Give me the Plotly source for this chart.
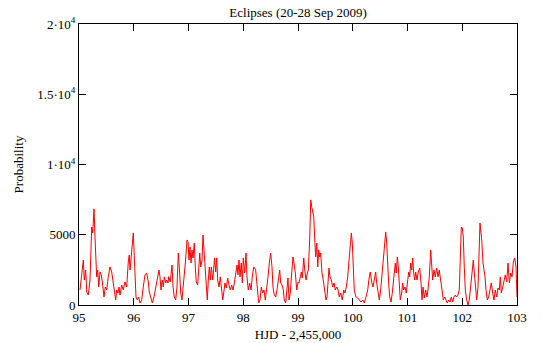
import plotly.graph_objects as go

# Eclipse-search probability versus heliocentric Julian date
hjd = [
    95.018, 95.049, 95.079, 95.097, 95.122, 95.141, 95.170, 95.201, 95.232, 95.250,
    95.274, 95.292, 95.311, 95.323, 95.342, 95.360, 95.384, 95.407, 95.426, 95.457,
    95.480, 95.506, 95.535, 95.566, 95.597, 95.626, 95.670, 95.689, 95.712, 95.731,
    95.749, 95.780, 95.809, 95.840, 95.871, 95.900, 95.918, 95.932, 95.950, 95.974,
    95.992, 96.005, 96.023, 96.041, 96.065, 96.090, 96.114, 96.145, 96.174, 96.205,
    96.236, 96.266, 96.284, 96.315, 96.339, 96.370, 96.401, 96.430, 96.461, 96.479,
    96.498, 96.521, 96.540, 96.558, 96.584, 96.602, 96.626,
    96.638, 96.668, 96.699, 96.717, 96.741, 96.766, 96.790, 96.814, 96.832, 96.858,
    96.881, 96.912, 96.942, 96.973, 96.991, 97.009, 97.027, 97.046, 97.064, 97.082,
    97.106, 97.124, 97.142, 97.168, 97.186, 97.205, 97.223, 97.247, 97.265, 97.283,
    97.301, 97.325, 97.343, 97.362, 97.380, 97.399, 97.417, 97.442, 97.460, 97.477,
    97.497, 97.515, 97.533, 97.557, 97.581, 97.606, 97.625, 97.643, 97.667, 97.690,
    97.716, 97.740, 97.763, 97.789, 97.813, 97.837, 97.862, 97.886, 97.904, 97.922,
    97.941, 97.964, 97.983, 98.001, 98.026, 98.050, 98.068, 98.092, 98.118, 98.142,
    98.165, 98.191,
    98.227, 98.257, 98.282, 98.306, 98.330, 98.355, 98.379, 98.403, 98.428, 98.452,
    98.476, 98.501, 98.525, 98.543, 98.567, 98.593, 98.616, 98.640, 98.666, 98.684,
    98.708, 98.732, 98.750, 98.775, 98.799, 98.817, 98.836, 98.859, 98.885, 98.909,
    98.927, 98.951, 98.977, 99.001, 99.019, 99.037, 99.061, 99.079, 99.105, 99.123,
    99.147, 99.171, 99.189, 99.215, 99.233, 99.251, 99.270, 99.288, 99.306, 99.324,
    99.343, 99.361, 99.378, 99.397, 99.415, 99.438, 99.462, 99.488, 99.511, 99.530,
    99.548, 99.566, 99.584, 99.608, 99.634, 99.658, 99.681, 99.707, 99.731, 99.754,
    99.780,
    99.809, 99.835, 99.858, 99.882, 99.908, 99.932, 99.955, 99.974, 99.992, 100.010,
    100.028, 100.059, 100.090, 100.120, 100.151, 100.182, 100.211, 100.242, 100.273, 100.302,
    100.320, 100.346, 100.370, 100.393, 100.419, 100.437, 100.461, 100.485, 100.510, 100.529,
    100.553, 100.576, 100.602, 100.620, 100.638, 100.656, 100.675, 100.699, 100.722, 100.741,
    100.759, 100.777, 100.795, 100.814, 100.832, 100.850, 100.868, 100.894, 100.912, 100.930,
    100.954, 100.978, 101.004, 101.022, 101.040, 101.058, 101.077, 101.095, 101.113, 101.132,
    101.150, 101.174, 101.197, 101.223, 101.247, 101.265, 101.283, 101.307, 101.332, 101.356,
    101.374, 101.398, 101.424, 101.442, 101.460, 101.484, 101.507, 101.533, 101.557, 101.580,
    101.606, 101.630, 101.654, 101.679, 101.703, 101.727, 101.752, 101.776, 101.800, 101.825,
    101.849, 101.873, 101.898, 101.922, 101.946, 101.964, 101.983, 102.001, 102.019, 102.037,
    102.056, 102.081, 102.105, 102.129, 102.154, 102.178, 102.202, 102.220, 102.238, 102.264,
    102.288, 102.306, 102.324, 102.337, 102.356, 102.379, 102.397, 102.416, 102.434, 102.458,
    102.483, 102.507, 102.530, 102.556, 102.580, 102.603, 102.629, 102.653, 102.677, 102.695,
    102.713, 102.739, 102.763, 102.786, 102.812, 102.836, 102.860, 102.885, 102.909, 102.933,
    102.958, 102.982, 103.000,
]

probability = [
    1070, 2000, 3200, 1780, 2490, 925, 712, 1780, 5550, 5130,
    6840, 4840, 3200, 2000, 2490, 1280, 2350, 2140, 1640, 570,
    1280, 1070, 2000, 2710, 2350, 1570, 360, 1070, 850, 1280,
    710, 1420, 1070, 1640, 1280, 3060, 3560, 2490, 3200, 4410,
    5130, 3920, 1570, 570, 360, 570, 140, 360, 1280, 2140,
    2280, 1640, 925, 360, 140, 570, 1280, 2000, 2490, 2000,
    1070, 1780, 1280, 2000, 1570, 1780, 1570,
    2020, 1640, 2850, 1280, 570, 360, 1280, 3700, 2710, 850,
    360, 1570, 2990, 4630, 4490, 3200, 4130, 2990, 3920, 3350,
    4410, 2710, 1640, 1420, 2710, 3700, 2710, 3200, 4980, 3920,
    2710, 1070, 360, 1780, 2710, 1780, 2710, 1780, 2710, 3350,
    2350, 3350, 1780, 1280, 2000, 1070, 360, 850, 1570, 1210,
    1920, 1420, 1070, 1420, 1070, 1570, 2350, 2850, 2140, 3200,
    2000, 2990, 1570, 3350, 2280, 3700, 2000, 1070, 1570, 1070,
    2000, 2710,
    2490, 1070, 140, 360, 1280, 850, 1070, 360, 1070, 2000,
    2990, 3700, 2710, 1280, 710, 570, 1070, 2000, 2490, 1570,
    1420, 1070, 360, 140, 1070, 1920, 360, 850, 2280, 3420,
    2990, 2280, 1070, 1640, 1570, 2000, 2350, 1920, 3350, 2490,
    1780, 2280, 2490, 4840, 7480, 6980, 6550, 6270, 4630, 3420,
    4410, 2710, 3920, 3420, 3700, 2280, 1780, 1070, 360, 570,
    1570, 2630, 2000, 1780, 1280, 1570, 1070, 1280, 1070, 570,
    850,
    360, 1070, 850, 1280, 2000, 3200, 4410, 5130, 4410, 2710,
    1070, 570, 500, 360, 210, 360, 140, 570, 1070, 2000,
    2350, 1640, 1280, 1780, 2350, 1570, 1070, 360, 1070, 2000,
    3420, 4410, 5200, 4410, 2710, 1570, 570, 210, 850, 1780,
    2490, 2990, 2280, 3420, 2710, 1280, 360, 850, 1570, 1070,
    1280, 850, 1780, 2350, 2000, 2990, 2490, 3350, 2280, 1780,
    2350, 1780, 2350, 2630, 1570, 360, 1280, 500, 1070, 570,
    1070, 2000, 3920, 2710, 1780, 2490, 2000, 2630, 2000, 2490,
    1570, 1070, 360, 570, 360, 140, 360, 210, 570, 210,
    570, 710, 570, 710, 1070, 2710, 5550, 5480, 4840, 2710,
    1070, 360, 0, 360, 1280, 2280, 3200, 2280, 1570, 360,
    1280, 3920, 5840, 5340, 4630, 2990, 2490, 2000, 1070, 360,
    570, 1280, 1570, 850, 360, 1070, 570, 1210, 1070, 2000,
    850, 1280, 1780, 2140, 1640, 2990, 1570, 2280, 2000, 3060,
    3350, 2710, 570,
]

x_ticks = [95, 96, 97, 98, 99, 100, 101, 102, 103]
y_ticks = [0, 5000, 10000, 15000, 20000]
y_tick_text = ["0", "5000", "1\u00b710<sup>4</sup>", "1.5\u00b710<sup>4</sup>", "2\u00b710<sup>4</sup>"]

serif = "Liberation Serif, Times New Roman, serif"

fig = go.Figure()
fig.add_trace(go.Scatter(
    x=hjd, y=probability, mode="lines",
    line=dict(color="#ff0000", width=1),
    showlegend=False, hoverinfo="skip",
))

axis_common = dict(
    showline=True, linecolor="black", linewidth=1, mirror="allticks",
    ticks="inside", ticklen=7, tickcolor="black", tickwidth=1,
    showgrid=False, zeroline=False, automargin=False,
    tickfont=dict(family=serif, size=13, color="black"),
)

fig.update_xaxes(
    range=[95, 103], tickvals=x_ticks, ticktext=[str(t) for t in x_ticks],
    title=dict(text="HJD - 2,455,000", font=dict(family=serif, size=13, color="black"), standoff=6),
    **axis_common,
)
fig.update_yaxes(
    range=[0, 20000], tickvals=y_ticks, ticktext=y_tick_text,
    title=dict(text="Probability", font=dict(family=serif, size=13, color="black"), standoff=10),
    **axis_common,
)

fig.update_layout(
    width=543, height=343,
    margin=dict(l=79, r=26, t=24, b=38, autoexpand=False),
    paper_bgcolor="white", plot_bgcolor="white",
    title=dict(text="Eclipses (20-28 Sep 2009)", x=0.549, xanchor="center",
               y=0.965, yanchor="middle",
               font=dict(family=serif, size=13, color="black")),
)

fig.write_html("out.html")
